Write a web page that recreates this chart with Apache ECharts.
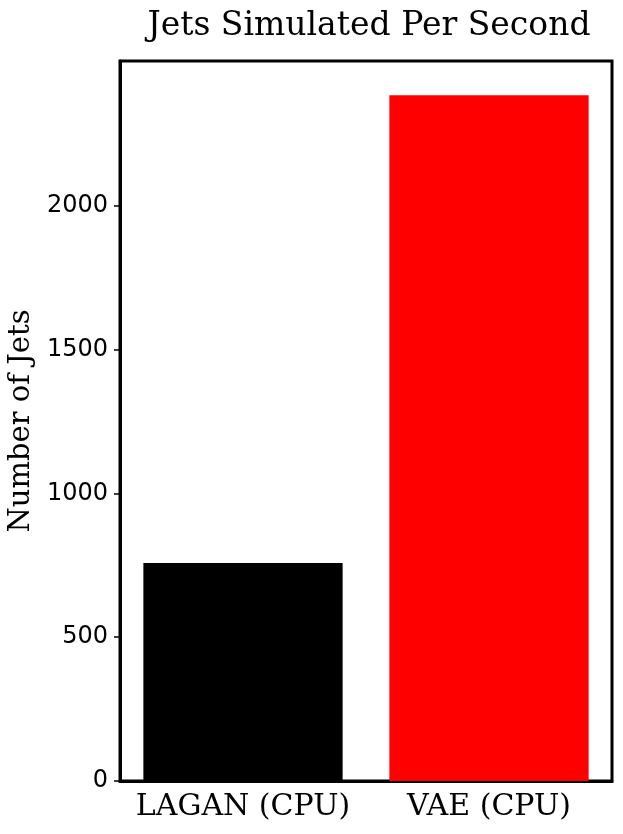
<!DOCTYPE html>
<html>
<head>
<meta charset="utf-8">
<script src="https://cdn.jsdelivr.net/npm/echarts@6/dist/echarts.min.js"></script>
<style>
  html, body { margin: 0; padding: 0; background: #fff; }
  #chart { width: 623px; height: 834px; }
</style>
</head>
<body>
<div id="chart"></div>
<script>
// 数据
const categories = ["LAGAN (CPU)", "VAE (CPU)"]
const jetsPerSecond = [758, 2384]
const barColors = ["#000000", "#ff0000"]
const yTicks = [0, 500, 1000, 1500, 2000]

const serif = "DejaVu Serif"
const sans = "DejaVu Sans"
const chart = echarts.init(document.getElementById("chart"))

const options = {
  backgroundColor: "#fff",
  animation: false,
  title: {
    text: "Jets Simulated Per Second",
    left: 364,
    textAlign: "center",
    top: 5,
    textStyle: { fontFamily: serif, fontSize: 33, fontWeight: "normal", color: "#000" }
  },
  grid: {
    left: 120,
    right: 11,
    top: 61,
    bottom: 53,
    outerBoundsMode: "none",
    containLabel: false,
    show: true,
    borderColor: "#000",
    borderWidth: 3
  },
  xAxis: {
    type: "category",
    data: categories,
    axisLine: { lineStyle: { color: "#000", width: 3 } },
    axisTick: { alignWithLabel: true, length: 6, lineStyle: { color: "#000", width: 1.5 } },
    axisLabel: { interval: 0, hideOverlap: false, fontFamily: serif, fontSize: 30, color: "#000", margin: 11 }
  },
  yAxis: {
    type: "value",
    min: 0,
    max: 2503,
    interval: 500,
    name: "Number of Jets",
    nameLocation: "middle",
    nameGap: 82,
    nameTextStyle: { fontFamily: serif, fontSize: 29, color: "#000" },
    splitLine: { show: false },
    axisLine: { show: true, lineStyle: { color: "#000", width: 3 } },
    axisTick: {
      show: true,
      length: 6,
      customValues: yTicks,
      lineStyle: { color: "#000", width: 1.5 }
    },
    axisLabel: {
      fontFamily: sans,
      fontSize: 24,
      color: "#000",
      margin: 12,
      customValues: yTicks,
      formatter: v => String(v)
    }
  },
  series: [
    {
      type: "bar",
      barWidth: "81%",
      data: jetsPerSecond.map((v, i) => ({ value: v, itemStyle: { color: barColors[i] } }))
    }
  ]
}
chart.setOption(options)
</script>
</body>
</html>
